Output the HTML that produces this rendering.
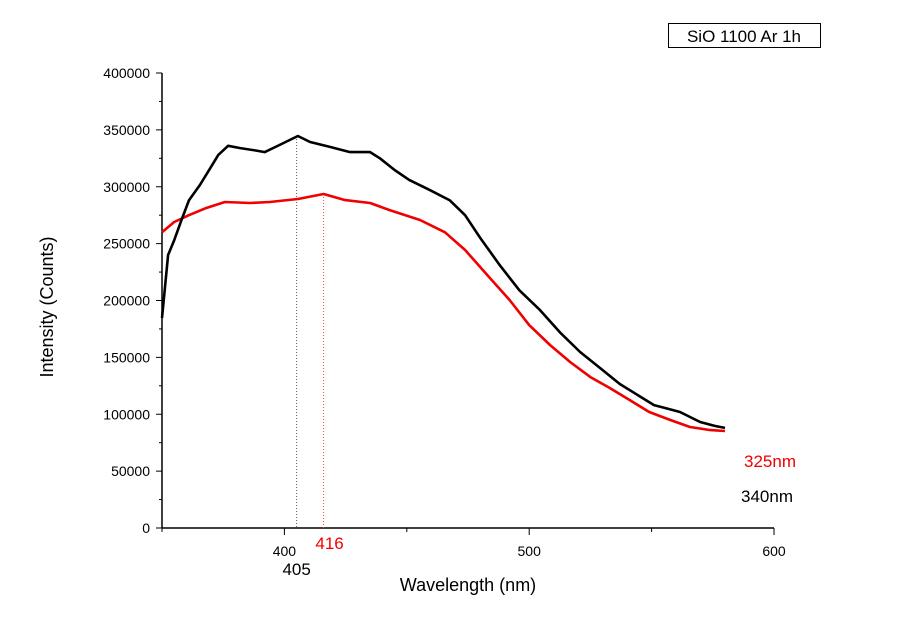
<!DOCTYPE html>
<html><head><meta charset="utf-8"><style>
body{margin:0;background:#fff;}
svg{display:block;font-family:"Liberation Sans",Arial,sans-serif;}
</style></head><body>
<svg id="chart" width="900" height="635"></svg>
<script>
const blackX=[350,352.5,355,358,361,365.5,369.6,373,377,382,388,392,398,405.5,410.5,418.6,426.8,435,439,445,451,459.5,467.6,473.8,480,488,496,504.4,512.6,520.8,529,537,545,551,555.5,561.6,569.8,576,580];
const blackY=[184600,240000,253000,271000,288000,301500,316000,328000,336000,334000,332000,330500,336700,344600,339300,335000,330500,330500,325000,314700,306000,297000,288000,275000,255000,231000,209000,191600,172000,154700,140600,126600,116000,108000,105500,102000,93200,89700,88000];
const redX=[350,355,361,367.6,375.7,386,394,405.5,416,424.8,435,443,455.4,465.6,473.8,484,492,500,508.5,516.7,525,533,541,549,557.5,565.7,574,580];
const redY=[260000,269000,275000,281000,286600,285700,286600,289200,293600,288300,285700,279500,270800,260000,244400,219700,200400,178400,160900,145900,132700,123000,112500,102000,95000,88800,86100,85300];
const xTicks=[400,500,600];
const xMinor=[350,450,550];
const yTicks=[0,50000,100000,150000,200000,250000,300000,350000,400000];
const peaks=[405,416];

const NS="http://www.w3.org/2000/svg";
const svg=document.getElementById('chart');
const X0=162,X1=774,Y0=528,Y1=73;
const xs=v=>X0+(v-350)/250*(X1-X0);
const ys=v=>Y0-v/400000*(Y0-Y1);
function mk(t,a,p){const e=document.createElementNS(NS,t);for(const k in a)e.setAttribute(k,a[k]);(p||svg).appendChild(e);return e;}

let e;
e=mk('line',{x1:X0,y1:Y1,x2:X0,y2:Y0,stroke:'#000','stroke-width':1.5});


e=mk('line',{x1:X0,y1:Y0,x2:X1,y2:Y0,stroke:'#000','stroke-width':1.5});



yTicks.forEach(v=>{
  e=mk('line',{x1:X0-6,y1:ys(v),x2:X0,y2:ys(v),stroke:'#000','stroke-width':1});
  
  
  e=mk('text',{x:X0-12,y:ys(v)+5,'text-anchor':'end','font-size':14});
  e.textContent=v;
  
  
  if(v<400000){
    e=mk('line',{x1:X0-3,y1:ys(v+25000),x2:X0,y2:ys(v+25000),stroke:'#000','stroke-width':1});
    
    
  }
});
xTicks.forEach(v=>{
  e=mk('line',{x1:xs(v),y1:Y0,x2:xs(v),y2:Y0+7,stroke:'#000','stroke-width':1});
  
  
  e=mk('text',{x:xs(v),y:Y0+28,'text-anchor':'middle','font-size':14});
  e.textContent=v;
  
  
});
xMinor.forEach(v=>{
  e=mk('line',{x1:xs(v),y1:Y0,x2:xs(v),y2:Y0+4,stroke:'#000','stroke-width':1});
  
  
});

function peakLine(w,val,col){
  e=mk('line',{x1:xs(w),y1:ys(val),x2:xs(w),y2:Y0,stroke:col,'stroke-width':1,'stroke-dasharray':'1,2'});
  
  
}
peakLine(peaks[0],blackY[13],'#555');
peakLine(peaks[1],redY[8],'#e44');

function series(xa,ya,col,name){
  const d=xa.map((x,i)=>(i?'L':'M')+xs(x).toFixed(1)+','+ys(ya[i]).toFixed(1)).join('');
  e=mk('path',{d:d,fill:'none',stroke:col,'stroke-width':2.6,'stroke-linejoin':'round'});
  
  
}
series(redX,redY,'#f00000','series-325nm');
series(blackX,blackY,'#000','series-340nm');

e=mk('text',{x:xs(peaks[0]),y:575,'text-anchor':'middle','font-size':17});
e.textContent='405';


e=mk('text',{x:xs(peaks[1])+6,y:549,'text-anchor':'middle','font-size':17,fill:'#f00000'});
e.textContent='416';



e=mk('text',{x:468,y:591,'text-anchor':'middle','font-size':18});
e.textContent='Wavelength (nm)';


e=mk('text',{x:53,y:307,'text-anchor':'middle','font-size':18,transform:'rotate(-90 53 307)'});
e.textContent='Intensity (Counts)';



e=mk('text',{x:744,y:467,'font-size':17,fill:'#f00000'});
e.textContent='325nm';


e=mk('text',{x:741,y:502,'font-size':17});
e.textContent='340nm';



e=mk('rect',{x:668.5,y:23.5,width:152,height:24,fill:'none',stroke:'#000','stroke-width':1});


e=mk('text',{x:744,y:42,'text-anchor':'middle','font-size':17});
e.textContent='SiO 1100 Ar 1h';


</script>
</body></html>
